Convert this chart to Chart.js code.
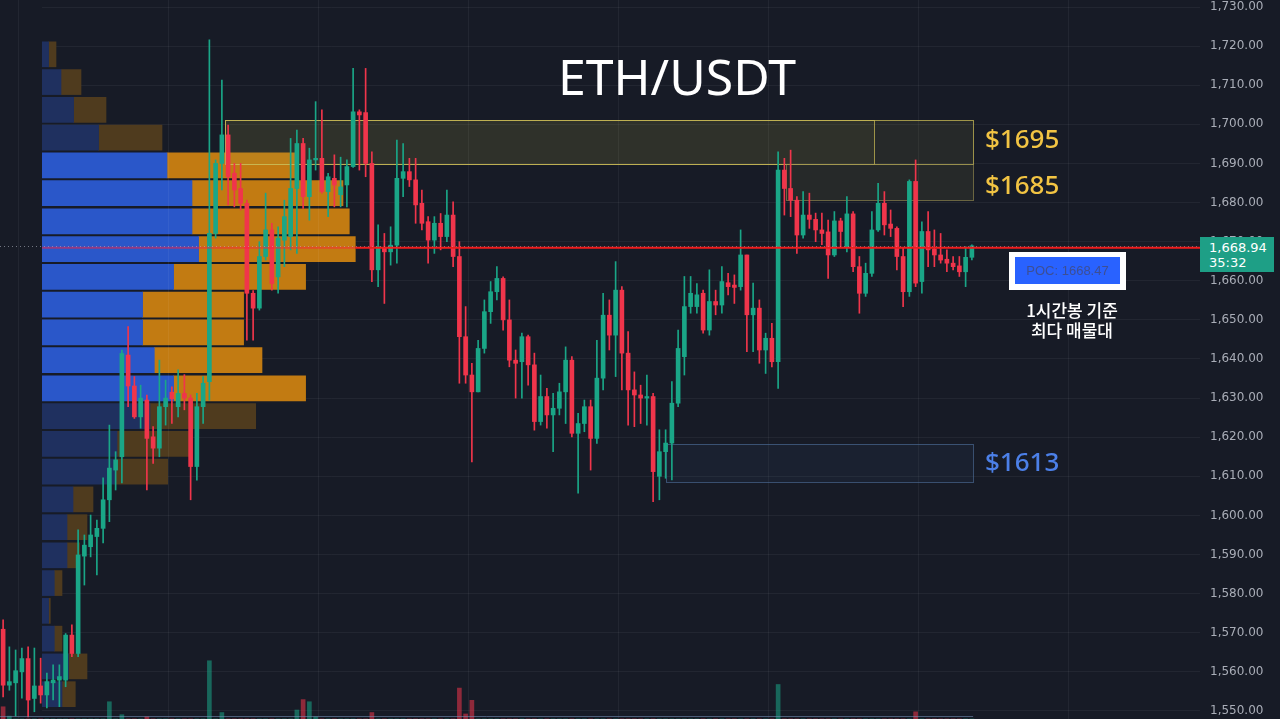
<!DOCTYPE html>
<html>
<head>
<meta charset="utf-8">
<script src="https://cdn.jsdelivr.net/npm/chart.js@4.4.0/dist/chart.umd.min.js"></script>
<style>
  html, body { margin: 0; padding: 0; background: #171b26; width: 1280px; height: 719px; overflow: hidden; }
  #wrap { position: relative; width: 1280px; height: 719px; }
  canvas { position: absolute; left: 0; top: 0; }
  .txt { position: absolute; white-space: nowrap; font-family: 'Noto Sans', sans-serif; line-height: 1; }
  #title { left: 527px; width: 300px; top: 51px; text-align: center; font-size: 50px; color: #fff; }
  .lvl { left: 985px; font-size: 26px; font-weight: 500; }
  #pocOuter { position: absolute; left: 1009px; top: 252px; width: 117px; height: 38px; background: #fff; }
  #pocInner { position: absolute; left: 6px; top: 5px; width: 105px; height: 27px; background: #2962ff;
              color: #3d4f94; font: 13px 'Liberation Sans', sans-serif; line-height: 27px; text-align: center; }
  #note { left: 972px; width: 200px; top: 300px; text-align: center; color: #fff;
          font-family: 'Noto Sans CJK KR', sans-serif; font-size: 17px; font-weight: 500; line-height: 20px; }
  #lastPrice { position: absolute; left: 1200px; top: 237px; width: 74px; height: 35px; background: #1e9f86;
               color: #fff; font: 13px 'DejaVu Sans', sans-serif; line-height: 15px; box-sizing: border-box; padding: 3px 0 0 9px; }
</style>
</head>
<body>
<div id="wrap">
  <canvas id="profile" width="1280" height="719"></canvas>
  <canvas id="candles" width="1280" height="719"></canvas>
  <div class="txt" id="title">ETH/USDT</div>
  <div class="txt lvl" style="top:125px;color:#f2c443;">$1695</div>
  <div class="txt lvl" style="top:171px;color:#f2c443;">$1685</div>
  <div class="txt lvl" style="top:448px;color:#4c80e8;">$1613</div>
  <div id="pocOuter"><div id="pocInner">POC: 1668.47</div></div>
  <div class="txt" id="note">1시간봉 기준<br>최다 매물대</div>
  <div id="lastPrice">1,668.94<br>35:32</div>
</div>
<script>
// 1h candles, ETH/USDT
const openP = [
  1570.9, 1556.6, 1557.2, 1560.0, 1563.4, 1553.2, 1556.4, 1554.1, 1557.2, 1557.9,
  1557.9, 1569.4, 1564.7, 1589.6, 1592.0, 1594.6, 1596.7, 1604.0, 1611.6, 1615.0,
  1641.0, 1633.1, 1625.2, 1629.5, 1620.1, 1617.2, 1627.8, 1631.5, 1627.8, 1631.2,
  1630.0, 1612.5, 1627.8, 1634.2, 1672.1, 1690.0, 1697.3, 1687.5, 1683.6, 1679.8,
  1656.8, 1653.0, 1666.2, 1673.0, 1661.0, 1670.4, 1671.3, 1683.6, 1695.1, 1681.5,
  1690.9, 1691.3, 1682.8, 1686.2, 1682.0, 1684.5, 1689.2, 1703.2, 1703.0, 1690.0,
  1662.8, 1668.3, 1667.4, 1669.1, 1686.2, 1687.9, 1685.8, 1679.8, 1675.1, 1670.4,
  1674.7, 1671.3, 1676.8, 1666.2, 1645.7, 1635.9, 1631.6, 1642.7, 1652.1, 1657.2,
  1660.6, 1650.0, 1639.7, 1639.3, 1645.7, 1638.5, 1624.0, 1630.4, 1625.7, 1627.4,
  1631.6, 1639.7, 1621.0, 1623.5, 1627.8, 1619.7, 1635.1, 1651.2, 1646.1, 1657.6,
  1641.5, 1632.1, 1630.8, 1630.0, 1630.4, 1610.0, 1616.3, 1618.5, 1628.7, 1640.6,
  1653.4, 1653.4, 1656.8, 1647.4, 1654.7, 1653.8, 1659.5, 1658.9, 1658.5, 1666.6,
  1651.3, 1653.0, 1642.3, 1645.3, 1639.3, 1688.3, 1683.6, 1680.6, 1671.7, 1676.8,
  1675.7, 1673.0, 1672.5, 1666.6, 1675.3, 1668.7, 1677.1, 1663.6, 1656.8, 1661.9,
  1673.0, 1679.8, 1674.5, 1673.4, 1666.2, 1657.2, 1685.4, 1659.8, 1672.6, 1668.1,
  1666.6, 1665.5, 1664.5, 1663.8, 1662.3, 1666.0
];
const highP = [
  1573.3, 1566.4, 1565.6, 1566.1, 1566.4, 1566.1, 1563.5, 1559.7, 1561.8, 1561.8,
  1569.8, 1572.0, 1596.3, 1595.0, 1600.1, 1598.8, 1609.6, 1623.1, 1616.3, 1642.3,
  1648.3, 1635.5, 1633.3, 1630.8, 1622.7, 1639.7, 1634.6, 1632.9, 1637.2, 1636.0,
  1630.8, 1631.2, 1635.5, 1721.6, 1690.9, 1711.3, 1699.8, 1690.0, 1690.0, 1680.6,
  1657.5, 1670.0, 1682.4, 1674.7, 1673.8, 1680.6, 1696.4, 1698.5, 1696.4, 1693.9,
  1705.8, 1703.7, 1687.5, 1692.2, 1691.6, 1690.9, 1714.3, 1703.7, 1714.3, 1693.0,
  1674.3, 1672.1, 1673.8, 1696.0, 1695.1, 1691.3, 1691.3, 1683.2, 1676.4, 1676.4,
  1677.2, 1683.2, 1680.2, 1670.0, 1653.4, 1638.9, 1644.8, 1655.1, 1659.8, 1663.6,
  1661.0, 1655.1, 1642.3, 1646.6, 1646.1, 1641.5, 1635.9, 1632.5, 1631.2, 1633.8,
  1643.1, 1640.6, 1626.1, 1629.5, 1629.5, 1644.8, 1656.8, 1655.1, 1664.9, 1658.5,
  1647.0, 1636.7, 1633.3, 1635.9, 1631.2, 1621.9, 1621.9, 1634.2, 1647.4, 1661.1,
  1661.1, 1659.3, 1657.6, 1662.8, 1657.6, 1663.6, 1661.9, 1661.5, 1673.0, 1666.6,
  1659.4, 1655.1, 1646.6, 1649.1, 1693.0, 1691.3, 1693.4, 1681.5, 1682.8, 1682.4,
  1677.3, 1677.3, 1675.5, 1677.7, 1676.0, 1681.5, 1677.7, 1666.2, 1664.5, 1677.7,
  1684.9, 1682.8, 1678.1, 1673.8, 1668.3, 1685.8, 1690.9, 1675.1, 1677.7, 1673.0,
  1672.1, 1667.9, 1666.2, 1666.2, 1668.7, 1669.2
];
const lowP = [
  1553.6, 1555.3, 1548.7, 1553.3, 1548.5, 1549.8, 1552.0, 1550.8, 1552.8, 1551.1,
  1556.2, 1563.9, 1563.9, 1582.2, 1589.4, 1584.8, 1593.0, 1598.4, 1606.5, 1608.3,
  1627.8, 1624.8, 1622.3, 1606.5, 1613.3, 1615.0, 1623.1, 1623.5, 1625.2, 1627.0,
  1604.0, 1609.0, 1623.5, 1629.5, 1670.9, 1683.2, 1679.4, 1678.9, 1678.1, 1644.8,
  1644.8, 1652.5, 1665.3, 1657.6, 1656.8, 1663.6, 1667.9, 1667.0, 1678.5, 1675.5,
  1688.3, 1682.4, 1676.4, 1678.9, 1678.9, 1678.9, 1689.0, 1688.3, 1686.6, 1659.8,
  1658.5, 1654.2, 1664.0, 1664.5, 1681.5, 1684.1, 1674.7, 1673.0, 1664.5, 1667.0,
  1667.9, 1670.0, 1663.6, 1633.8, 1633.8, 1613.7, 1631.6, 1641.5, 1649.1, 1655.1,
  1647.4, 1638.0, 1630.0, 1630.0, 1633.3, 1621.8, 1623.1, 1622.3, 1616.3, 1625.7,
  1623.5, 1620.1, 1605.7, 1621.4, 1611.6, 1618.4, 1632.1, 1642.3, 1635.5, 1632.1,
  1623.1, 1622.7, 1623.5, 1623.1, 1603.5, 1604.0, 1609.5, 1609.1, 1627.8, 1635.9,
  1651.7, 1651.7, 1646.6, 1646.1, 1651.3, 1651.7, 1656.4, 1654.2, 1657.6, 1641.9,
  1641.9, 1638.9, 1636.3, 1638.0, 1632.5, 1676.8, 1676.4, 1667.0, 1670.9, 1673.4,
  1670.0, 1669.2, 1660.6, 1666.2, 1668.7, 1667.4, 1662.3, 1651.7, 1656.0, 1661.1,
  1672.6, 1671.7, 1671.3, 1662.8, 1653.4, 1656.0, 1658.5, 1656.8, 1663.6, 1663.6,
  1664.5, 1662.3, 1662.8, 1661.1, 1658.5, 1665.3
];
const closeP = [
  1556.6, 1557.5, 1560.3, 1563.4, 1552.8, 1556.4, 1554.1, 1557.5, 1557.9, 1558.8,
  1569.4, 1564.7, 1589.9, 1592.4, 1595.0, 1596.7, 1604.0, 1612.1, 1614.2, 1641.4,
  1633.1, 1625.2, 1630.0, 1619.7, 1617.2, 1627.8, 1630.0, 1629.8, 1631.2, 1630.0,
  1612.5, 1627.8, 1633.8, 1672.1, 1690.0, 1697.3, 1686.6, 1683.2, 1679.8, 1656.8,
  1653.0, 1666.2, 1673.0, 1659.3, 1670.9, 1676.4, 1683.6, 1695.1, 1681.5, 1690.9,
  1691.3, 1682.8, 1686.6, 1684.5, 1684.0, 1689.2, 1703.2, 1702.4, 1690.0, 1662.8,
  1668.7, 1667.4, 1669.1, 1686.2, 1687.9, 1685.8, 1679.4, 1674.7, 1670.4, 1674.7,
  1671.3, 1676.8, 1666.2, 1645.7, 1635.9, 1631.6, 1642.7, 1652.1, 1657.2, 1660.6,
  1650.0, 1639.7, 1638.9, 1645.7, 1638.5, 1624.0, 1630.4, 1625.7, 1627.4, 1631.6,
  1639.7, 1621.0, 1623.5, 1627.8, 1619.7, 1635.1, 1651.2, 1646.1, 1657.6, 1641.5,
  1632.1, 1630.8, 1630.0, 1630.4, 1611.2, 1616.3, 1618.5, 1628.7, 1642.7, 1653.4,
  1656.8, 1656.4, 1647.4, 1654.7, 1653.8, 1659.8, 1658.5, 1658.3, 1666.6, 1651.3,
  1653.0, 1642.3, 1645.3, 1639.3, 1688.3, 1683.6, 1680.6, 1671.7, 1676.8, 1675.7,
  1673.0, 1672.1, 1666.6, 1675.3, 1672.6, 1677.1, 1663.6, 1656.8, 1661.9, 1673.0,
  1679.8, 1674.3, 1673.4, 1666.2, 1657.2, 1685.4, 1659.4, 1672.6, 1667.9, 1666.6,
  1665.3, 1664.5, 1663.6, 1662.3, 1666.0, 1668.94
];
// candle volume (only the bars that poke above the bottom edge)
const volume = [
  1.7, 0.4, 0, 0, 0, 0, 0, 0, 0, 0,
  0, 0, 0, 0, 0, 0, 0, 2.4, 0, 0.6,
  0, 0, 0, 0.3, 0, 0, 0, 0, 0, 0,
  0, 0, 0, 8.1, 0, 0.9, 0, 0, 0, 0,
  0, 0, 0, 0, 0, 0, 0, 1.25, 2.7, 2.4,
  0.3, 0, 0, 0, 0, 0, 0, 0, 0, 0.9,
  0, 0, 0, 0, 0, 0, 0, 0, 0, 0,
  0, 0, 0, 4.3, 0.7, 2.6, 0, 0, 0, 0,
  0, 0, 0, 0, 0, 0, 0, 0, 0, 0,
  0, 0, 0, 0, 0, 0, 0, 0, 0, 0,
  0, 0, 0, 0, 0, 0, 0, 0, 0, 0,
  0, 0, 0, 0, 0, 0, 0, 0, 0, 0,
  0, 0, 0, 0, 4.8, 0, 0, 0, 0, 0,
  0, 0, 0, 0, 0, 0, 0, 0, 0, 0,
  0, 0, 0, 0, 0, 0, 1.0, 0, 0, 0,
  0, 0, 0, 0, 0, 0
];

// visible range volume profile (row centre price, buy / sell volume)
const profilePrices = [
  1717.9, 1710.8, 1703.7, 1696.6, 1689.5, 1682.4, 1675.2, 1668.1, 1661.0, 1653.9,
  1646.8, 1639.7, 1632.5, 1625.4, 1618.3, 1611.2, 1604.1, 1597.0, 1589.8, 1582.7,
  1575.6, 1568.5, 1561.4, 1554.3
];
const buyVol = [
  6.6, 19.0, 31.6, 56.6, 125.0, 150.0, 150.0, 156.6, 131.6, 100.6,
  100.6, 112.3, 131.6, 108.0, 75.0, 73.0, 31.0, 25.0, 25.0, 12.3,
  6.6, 12.3, 26.6, 20.0
];
const sellVol = [
  7.4, 20.0, 32.4, 63.4, 128.3, 151.0, 157.3, 156.7, 132.0, 101.0,
  101.0, 107.7, 132.0, 105.7, 73.0, 52.7, 20.0, 20.0, 12.6, 7.7,
  1.7, 7.7, 18.4, 13.3
];

const priceTicks = [1550, 1560, 1570, 1580, 1590, 1600, 1610, 1620, 1630, 1640,
                    1650, 1660, 1670, 1680, 1690, 1700, 1710, 1720, 1730];
const pocPrice = 1668.47;
const lastPrice = 1668.94;

// key levels drawn as boxes (x in candle slots)
const zones = [
  { from: 35.5, to: 139.3, low: 1689.9, high: 1701.1, fill: 'rgba(175,165,70,0.07)', line: 'rgba(200,186,86,0.75)' },
  { from: 35.5, to: 155.2, low: 1689.9, high: 1701.1, fill: 'rgba(175,165,70,0.10)', line: 'rgba(200,186,86,0.75)' },
  { from: 125.3, to: 155.2, low: 1680.7, high: 1689.9, fill: 'rgba(175,165,70,0.10)', line: 'rgba(150,142,80,0.65)' },
  { from: 106.1, to: 155.2, low: 1608.6, high: 1618.3, fill: 'rgba(70,110,170,0.08)', line: 'rgba(80,115,160,0.6)' }
];

const yMin = 1547.95, yMax = 1731.79;
const slots = 192;
const profileLeft = 42;
const gridColor = 'rgba(255,255,255,0.05)';
const upColor = '#1aa687', downColor = '#f0354b';
const upVolColor = 'rgba(26,166,135,0.55)', downVolColor = 'rgba(240,53,75,0.55)';

const labels = Array.from({ length: slots }, (_, i) => 'h' + i);
const isUp = openP.map((o, i) => closeP[i] >= o);
const candleColors = isUp.map(u => u ? upColor : downColor);

const fmt = v => v.toLocaleString('en-US', { minimumFractionDigits: 2, maximumFractionDigits: 2 });
const setTicks = scale => { scale.ticks = priceTicks.map(v => ({ value: v })); };
const fitPriceAxis = s => { s.width = 80; s.paddingTop = 0; s.paddingBottom = 0; };

// value area = 70% of profile volume around the POC row
const totals = buyVol.map((b, i) => b + sellVol[i]);
const sumAll = totals.reduce((a, b) => a + b, 0);
let poc = totals.indexOf(Math.max(...totals));
let vaTop = poc, vaBot = poc, vaSum = totals[poc];
while (vaSum < sumAll * 0.7) {
  const up = vaTop > 0 ? totals[vaTop - 1] : -1;
  const dn = vaBot < totals.length - 1 ? totals[vaBot + 1] : -1;
  if (up >= dn) { vaTop--; vaSum += up; } else { vaBot++; vaSum += dn; }
}
const inVA = totals.map((t, i) => i >= vaTop && i <= vaBot);

let profileChart = new Chart(document.getElementById('profile'), {
  type: 'bar',
  data: {
    datasets: [
      {
        data: profilePrices.map((p, i) => ({ x: buyVol[i], y: p })),
        backgroundColor: inVA.map(v => v ? '#2a57c9' : '#1f305f'),
        stack: 'vp',
        barThickness: 25
      },
      {
        data: profilePrices.map((p, i) => ({ x: sellVol[i], y: p })),
        backgroundColor: inVA.map(v => v ? '#c27b12' : '#4f3b1e'),
        stack: 'vp',
        barThickness: 25
      }
    ]
  },
  options: {
    indexAxis: 'y',
    responsive: false,
    animation: false,
    devicePixelRatio: 1,
    layout: { padding: { left: profileLeft, right: 0, top: 0, bottom: 0 } },
    plugins: { legend: { display: false }, tooltip: { enabled: false } },
    scales: {
      x: { type: 'linear', display: false, min: 0, max: 1158 },
      y: {
        type: 'linear',
        position: 'right',
        min: yMin,
        max: yMax,
        offset: false,
        afterBuildTicks: setTicks,
        grid: { color: gridColor, drawTicks: false, offset: false },
        border: { display: false },
        ticks: { display: false },
        afterFit: fitPriceAxis
      }
    }
  }
});

const zonePlugin = {
  id: 'zones',
  beforeDatasetsDraw(chart) {
    const { ctx, scales: { x, y } } = chart;
    ctx.save();
    zones.forEach(z => {
      const x0 = Math.round(x.getPixelForValue(z.from));
      const x1 = Math.round(x.getPixelForValue(z.to));
      const y0 = Math.round(y.getPixelForValue(z.high));
      const y1 = Math.round(y.getPixelForValue(z.low));
      ctx.fillStyle = z.fill;
      ctx.fillRect(x0, y0, x1 - x0, y1 - y0);
      ctx.strokeStyle = z.line;
      ctx.lineWidth = 1;
      ctx.strokeRect(x0 + 0.5, y0 + 0.5, x1 - x0, y1 - y0);
    });
    ctx.restore();
  },
  afterDatasetsDraw(chart) {
    const { ctx, chartArea, scales: { x, y } } = chart;
    ctx.save();
    // last price, dotted
    const yl = Math.round(y.getPixelForValue(lastPrice)) + 0.5;
    ctx.setLineDash([1, 3]);
    ctx.strokeStyle = 'rgba(190,195,205,0.55)';
    ctx.lineWidth = 1;
    ctx.beginPath(); ctx.moveTo(chartArea.left, yl); ctx.lineTo(chartArea.right, yl); ctx.stroke();
    ctx.setLineDash([]);
    // POC line
    const yp = y.getPixelForValue(pocPrice);
    const profEnd = profileChart.scales.x.getPixelForValue(totals[poc]);
    ctx.lineWidth = 2;
    ctx.strokeStyle = 'rgba(255,30,60,0.5)';
    ctx.beginPath(); ctx.moveTo(profileLeft, yp); ctx.lineTo(profEnd, yp); ctx.stroke();
    ctx.strokeStyle = '#f01c1c';
    ctx.beginPath(); ctx.moveTo(profEnd, yp); ctx.lineTo(chartArea.right, yp); ctx.stroke();
    // bottom guide line
    const yb = Math.round(y.getPixelForValue(1548.7)) + 0.5;
    ctx.lineWidth = 1;
    ctx.strokeStyle = 'rgba(120,150,190,0.55)';
    ctx.beginPath(); ctx.moveTo(chartArea.left, yb); ctx.lineTo(x.getPixelForValue(155.2), yb); ctx.stroke();
    ctx.restore();
  }
};

let candleChart = new Chart(document.getElementById('candles'), {
  type: 'bar',
  data: {
    labels: labels,
    datasets: [
      {
        data: openP.map((o, i) => [o, closeP[i]]),
        backgroundColor: candleColors,
        barThickness: 4,
        minBarLength: 1,
        grouped: false,
        order: 0
      },
      {
        data: highP.map((h, i) => [lowP[i], h]),
        backgroundColor: candleColors,
        barThickness: 1,
        grouped: false,
        order: 1
      },
      {
        data: volume,
        backgroundColor: isUp.map(u => u ? upVolColor : downVolColor),
        barThickness: 4,
        grouped: false,
        yAxisID: 'yv',
        order: 2
      }
    ]
  },
  options: {
    responsive: false,
    animation: false,
    devicePixelRatio: 1,
    layout: { padding: 0 },
    plugins: { legend: { display: false }, tooltip: { enabled: false } },
    scales: {
      x: {
        offset: true,
        grid: {
          offset: true,
          drawTicks: false,
          color: c => (c.index % 24 === 3 ? gridColor : 'rgba(0,0,0,0)')
        },
        ticks: { display: false, autoSkip: false },
        border: { display: false },
        afterFit: s => { s.height = 0; }
      },
      y: {
        position: 'right',
        min: yMin,
        max: yMax,
        afterBuildTicks: setTicks,
        grid: { display: false, drawTicks: false },
        border: { display: false },
        ticks: {
          color: '#a9adb7',
          padding: 10,
          font: { family: 'DejaVu Sans', size: 12 },
          callback: v => fmt(v)
        },
        afterFit: fitPriceAxis
      },
      yv: { display: false, min: 0, max: 100 }
    }
  },
  plugins: [zonePlugin]
});
</script>
</body>
</html>
